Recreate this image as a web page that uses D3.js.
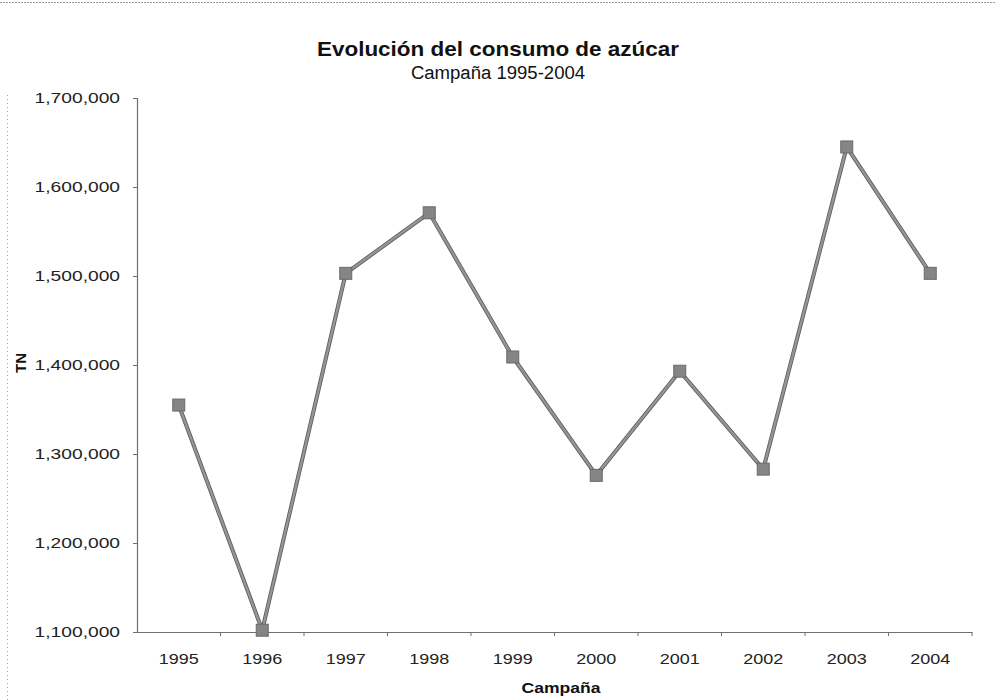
<!DOCTYPE html>
<html>
<head>
<meta charset="utf-8">
<script src="https://cdn.jsdelivr.net/npm/d3@7"></script>
<style>
  html, body { margin: 0; padding: 0; background: #fff; }
  svg { display: block; font-family: "Liberation Sans", Arial, sans-serif; }
</style>
</head>
<body>
<svg id="chart" width="995" height="700"></svg>
<script>
// Consumo anual de azúcar (TN) por campaña
const campanas = ["1995", "1996", "1997", "1998", "1999", "2000", "2001", "2002", "2003", "2004"];
const consumo = [1355000, 1102000, 1503000, 1571000, 1409000, 1276000, 1393000, 1283000, 1645000, 1503000];
const yTicks = [1100000, 1200000, 1300000, 1400000, 1500000, 1600000, 1700000];

const svg = d3.select("#chart");
const plot = { left: 137, right: 972, top: 98, bottom: 632 };

// Labels in this chart are drawn slightly wide; stretch text horizontally
function widen(sel, k) {
  sel.each(function () {
    const len = this.getComputedTextLength();
    d3.select(this).attr("textLength", len * k).attr("lengthAdjust", "spacingAndGlyphs");
  });
}

// faint outer frame
svg.append("line").attr("x1", 0).attr("x2", 995).attr("y1", 2.5).attr("y2", 2.5)
  .attr("stroke", "#9a9a9a").attr("stroke-width", 1).attr("stroke-dasharray", "2,1");
svg.append("line").attr("x1", 7.5).attr("x2", 7.5).attr("y1", 95).attr("y2", 700)
  .attr("stroke", "#a0a0a0").attr("stroke-width", 1).attr("stroke-dasharray", "1,3");

const x = d3.scaleBand().domain(campanas).range([plot.left, plot.right]).padding(0);
const y = d3.scaleLinear().domain([1100000, 1700000]).range([plot.bottom, plot.top]);

// Y axis
const yAxis = svg.append("g")
  .attr("transform", `translate(${plot.left},0)`)
  .call(d3.axisLeft(y).tickValues(yTicks).tickFormat(d3.format(",")).tickSize(4).tickPadding(13));
yAxis.select(".domain").attr("stroke", "#6e6e6e").attr("stroke-width", 1.2);
yAxis.selectAll(".tick line").attr("stroke", "#6e6e6e");
yAxis.selectAll(".tick text")
  .attr("font-size", 15).attr("fill", "#222")
  .call(widen, 1.28);

// X axis: labels centred on categories, ticks between categories
const xAxis = svg.append("g")
  .attr("transform", `translate(0,${plot.bottom})`)
  .call(d3.axisBottom(x).tickSize(0).tickPadding(21));
xAxis.select(".domain").attr("stroke", "#6e6e6e").attr("stroke-width", 1.2);
xAxis.selectAll(".tick text")
  .attr("font-size", 15).attr("fill", "#222")
  .call(widen, 1.2);
xAxis.selectAll(".sep")
  .data(campanas)
  .join("line")
  .attr("class", "sep")
  .attr("x1", d => x(d) + x.bandwidth()).attr("x2", d => x(d) + x.bandwidth())
  .attr("y1", 0).attr("y2", 4)
  .attr("stroke", "#6e6e6e");

// Series line
const line = d3.line()
  .x((d, i) => x(campanas[i]) + x.bandwidth() / 2)
  .y(d => y(d));
svg.append("path")
  .datum(consumo)
  .attr("d", line)
  .attr("fill", "none")
  .attr("stroke", "#5a5a5a")
  .attr("stroke-width", 4)
  .attr("stroke-linejoin", "round");
svg.append("path")
  .datum(consumo)
  .attr("d", line)
  .attr("fill", "none")
  .attr("stroke", "#959595")
  .attr("stroke-width", 2.4)
  .attr("stroke-linejoin", "round");

// Square markers
const ms = 12;
svg.selectAll(".marker")
  .data(consumo)
  .join("rect")
  .attr("class", "marker")
  .attr("x", (d, i) => x(campanas[i]) + x.bandwidth() / 2 - ms / 2)
  .attr("y", d => y(d) - ms / 2)
  .attr("width", ms).attr("height", ms)
  .attr("fill", "#858585")
  .attr("stroke", "#6a6a6a")
  .attr("stroke-width", 1);

// Titles
svg.append("text")
  .attr("x", 498).attr("y", 56)
  .attr("text-anchor", "middle")
  .attr("font-size", 21).attr("font-weight", "bold").attr("fill", "#111")
  .text("Evolución del consumo de azúcar")
  .call(widen, 1.07);
svg.append("text")
  .attr("x", 498).attr("y", 79)
  .attr("text-anchor", "middle")
  .attr("font-size", 18).attr("fill", "#111")
  .text("Campaña 1995-2004")
  .call(widen, 1.03);

// Axis titles
svg.append("text")
  .attr("x", 561).attr("y", 693)
  .attr("text-anchor", "middle")
  .attr("font-size", 15).attr("font-weight", "bold").attr("fill", "#111")
  .text("Campaña")
  .call(widen, 1.17);
svg.append("text")
  .attr("transform", "translate(26,363) rotate(-90)")
  .attr("text-anchor", "middle")
  .attr("font-size", 15).attr("font-weight", "bold").attr("fill", "#111")
  .text("TN");
</script>
</body>
</html>
